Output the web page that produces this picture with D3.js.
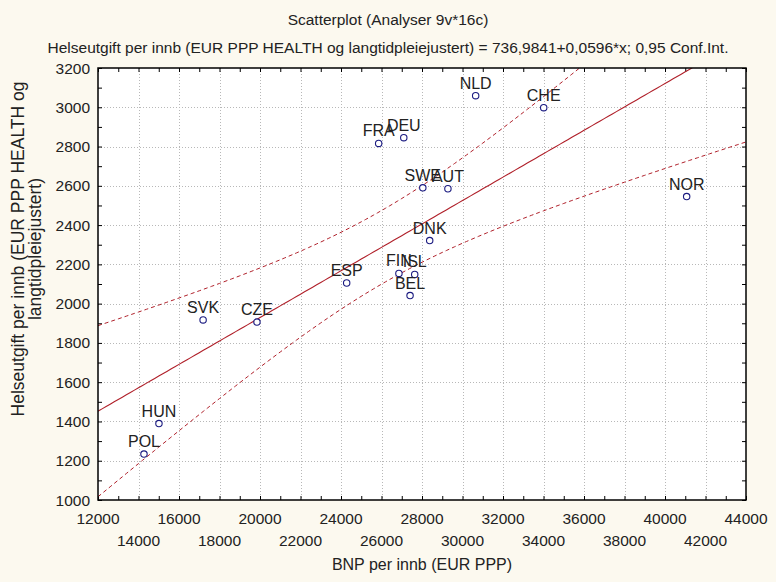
<!DOCTYPE html>
<html>
<head>
<meta charset="utf-8">
<script src="https://cdn.jsdelivr.net/npm/d3@7"></script>
<style>
  html, body { margin: 0; padding: 0; background: #FCF9EF; }
  svg { display: block; }
  text { font-family: Arial, "Liberation Sans", sans-serif; }
</style>
</head>
<body>
<svg id="chart" width="776" height="582"></svg>
<script>
// ---- data ----
const countries = ["NLD","CHE","DEU","FRA","SWE","AUT","NOR","DNK","FIN","ISL","BEL","ESP","SVK","CZE","HUN","POL"];
const bnp   = [30650,34010,27100,25860,28040,29280,41070,28380,26860,27640,27410,24280,17190,19850,15010,14270];
const helse = [3059, 2998, 2845, 2816, 2590, 2585, 2545, 2321, 2154, 2149, 2041, 2105, 1917, 1906, 1389, 1234];
const xTicks = [12000,14000,16000,18000,20000,22000,24000,26000,28000,30000,32000,34000,36000,38000,40000,42000,44000];
const yTicks = [1000,1200,1400,1600,1800,2000,2200,2400,2600,2800,3000,3200];
const intercept = 736.9841, slope = 0.0596, tCrit = 2.1448; // 0,95 conf, df=14

const titleText = "Scatterplot (Analyser 9v*16c)";
const subtitleText = "Helseutgift per innb (EUR PPP HEALTH og langtidpleiejustert) = 736,9841+0,0596*x; 0,95 Conf.Int.";
const xLabel = "BNP per innb (EUR PPP)";
const yLabel1 = "Helseutgift per innb (EUR PPP HEALTH og";
const yLabel2 = "langtidpleiejustert)";

// ---- layout ----
const L = 98, R = 746, T = 68, B = 500;
const svg = d3.select("#chart");
const x = d3.scaleLinear().domain([12000, 44000]).range([L, R]);
const y = d3.scaleLinear().domain([1000, 3200]).range([B, T]);

svg.append("rect").attr("x", L).attr("y", T).attr("width", R - L).attr("height", B - T).attr("fill", "#ffffff");

svg.append("defs").append("clipPath").attr("id", "clip")
  .append("rect").attr("x", L).attr("y", T).attr("width", R - L).attr("height", B - T);

// grid
const grid = svg.append("g").attr("stroke", "#b8b8b8").attr("stroke-width", 1).attr("stroke-dasharray", "1,2");
xTicks.slice(1, -1).forEach(v => grid.append("line").attr("x1", Math.round(x(v)) + 0.5).attr("x2", Math.round(x(v)) + 0.5).attr("y1", T).attr("y2", B));
yTicks.slice(1, -1).forEach(v => grid.append("line").attr("y1", Math.round(y(v)) + 0.5).attr("y2", Math.round(y(v)) + 0.5).attr("x1", L).attr("x2", R));

// axes with inward ticks (minor ticks every 1000 / 100)
const xMinor = d3.range(12000, 44001, 1000);
const yMinor = d3.range(1000, 3201, 100);
const tickLen = 4;
svg.append("g").attr("transform", `translate(0,${B})`)
  .call(d3.axisBottom(x).tickValues(xMinor).tickSize(-tickLen).tickFormat(""))
  .call(g => g.select(".domain").remove());
svg.append("g").attr("transform", `translate(0,${T})`)
  .call(d3.axisTop(x).tickValues(xMinor).tickSize(-tickLen).tickFormat(""))
  .call(g => g.select(".domain").remove());
svg.append("g").attr("transform", `translate(${L},0)`)
  .call(d3.axisLeft(y).tickValues(yMinor).tickSize(-tickLen).tickFormat(""))
  .call(g => g.select(".domain").remove());
svg.append("g").attr("transform", `translate(${R},0)`)
  .call(d3.axisRight(y).tickValues(yMinor).tickSize(-tickLen).tickFormat(""))
  .call(g => g.select(".domain").remove());

// tick labels
const tickFont = "15.5px";
svg.append("g").selectAll("text").data(yTicks).join("text")
  .attr("x", L - 8).attr("y", d => y(d)).attr("dy", "0.36em")
  .attr("text-anchor", "end").attr("font-size", tickFont).attr("fill", "#222")
  .text(d => d);
svg.append("g").selectAll("text").data(xTicks).join("text")
  .attr("x", d => x(d)).attr("y", (d, i) => i % 2 === 0 ? 524 : 546)
  .attr("text-anchor", "middle").attr("font-size", tickFont).attr("fill", "#222")
  .text(d => d);

// regression + confidence band
const n = bnp.length;
const xbar = d3.mean(bnp);
const sxx = d3.sum(bnp, v => (v - xbar) ** 2);
const sse = d3.sum(bnp.map((v, i) => (helse[i] - (intercept + slope * v)) ** 2));
const s = Math.sqrt(sse / (n - 2));
const xs = d3.range(12000, 44001, 200);
const fit = v => intercept + slope * v;
const hw = v => tCrit * s * Math.sqrt(1 / n + (v - xbar) ** 2 / sxx);
const line = d3.line().x(d => x(d[0])).y(d => y(d[1]));
const plotG = svg.append("g").attr("clip-path", "url(#clip)");
plotG.append("path").datum(xs.map(v => [v, fit(v)]))
  .attr("d", line).attr("fill", "none").attr("stroke", "#b0202a").attr("stroke-width", 1.1);
plotG.append("path").datum(xs.map(v => [v, fit(v) + hw(v)]))
  .attr("d", line).attr("fill", "none").attr("stroke", "#b0202a").attr("stroke-width", 1).attr("stroke-dasharray", "4,3");
plotG.append("path").datum(xs.map(v => [v, fit(v) - hw(v)]))
  .attr("d", line).attr("fill", "none").attr("stroke", "#b0202a").attr("stroke-width", 1).attr("stroke-dasharray", "4,3");

// points and labels
const pts = countries.map((c, i) => ({ c, x: bnp[i], y: helse[i] }));
svg.append("g").selectAll("circle").data(pts).join("circle")
  .attr("cx", d => x(d.x)).attr("cy", d => y(d.y)).attr("r", 3.2)
  .attr("fill", "#ffffff").attr("stroke", "#1a1a80").attr("stroke-width", 1.1);
svg.append("g").selectAll("text").data(pts).join("text")
  .attr("x", d => x(d.x)).attr("y", d => y(d.y) - 7)
  .attr("text-anchor", "middle").attr("font-size", "16px").attr("fill", "#222")
  .text(d => d.c);

// frame
svg.append("rect").attr("x", L).attr("y", T).attr("width", R - L).attr("height", B - T)
  .attr("fill", "none").attr("stroke", "#000").attr("stroke-width", 1.5);

// titles
svg.append("text").attr("x", 388).attr("y", 25).attr("text-anchor", "middle")
  .attr("font-size", "15.5px").attr("fill", "#222").text(titleText);
svg.append("text").attr("x", 388).attr("y", 53).attr("text-anchor", "middle")
  .attr("font-size", "15.5px").attr("fill", "#222").text(subtitleText);
svg.append("text").attr("x", 422).attr("y", 570).attr("text-anchor", "middle")
  .attr("font-family", "Lato, 'Open Sans', sans-serif")
  .attr("font-size", "16px").attr("fill", "#222").text(xLabel);
svg.append("text").attr("transform", "translate(24,249) rotate(-90)").attr("text-anchor", "middle")
  .attr("font-size", "17.5px").attr("fill", "#222").text(yLabel1);
svg.append("text").attr("transform", "translate(41,249) rotate(-90)").attr("text-anchor", "middle")
  .attr("font-size", "17.5px").attr("fill", "#222").text(yLabel2);
</script>
</body>
</html>
